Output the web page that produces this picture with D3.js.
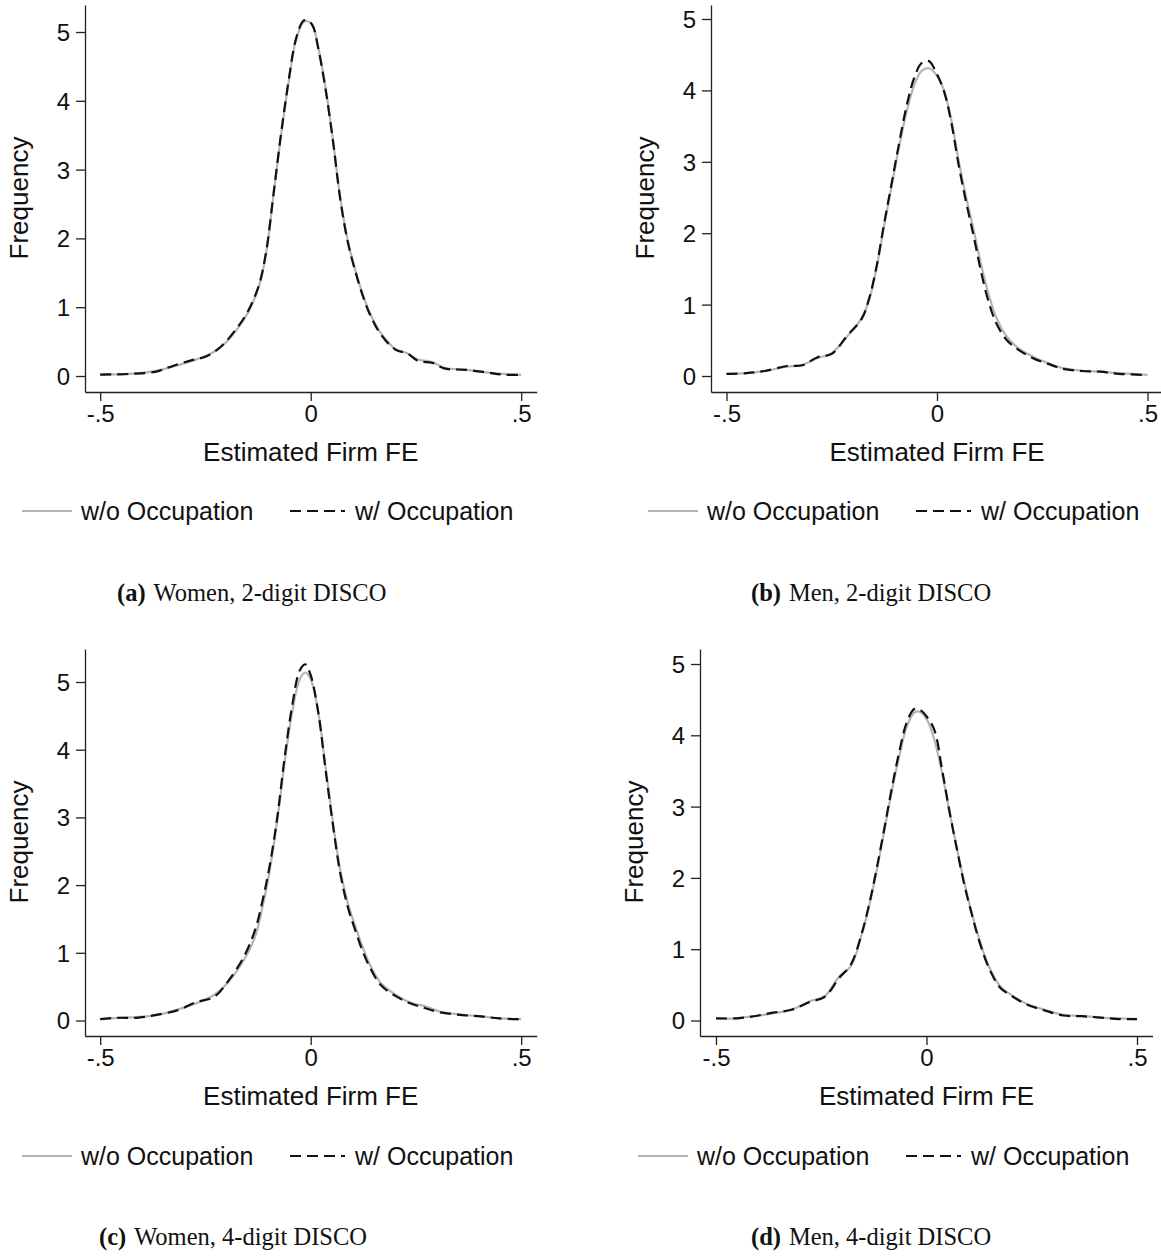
<!DOCTYPE html>
<html><head><meta charset="utf-8">
<script src="https://cdn.jsdelivr.net/npm/d3@7/dist/d3.min.js"></script>
<style>body{margin:0;background:#fff}svg{display:block}</style>
</head><body>
<svg id="c" width="1161" height="1256"></svg>
<script>
// ---------- DATA ----------
const xTicks = [-0.5, 0, 0.5];
const xTickLabels = ["-.5", "0", ".5"];
const yTicks = [0, 1, 2, 3, 4, 5];
const seriesNames = ["w/o Occupation", "w/ Occupation"];
const captionTags = ["(a)", "(b)", "(c)", "(d)"];
const captionTexts = ["Women, 2-digit DISCO", "Men, 2-digit DISCO", "Women, 4-digit DISCO", "Men, 4-digit DISCO"];
const xTitle = "Estimated Firm FE";
const yTitle = "Frequency";

// Panel (a) Women, 2-digit
const aX   = [-0.5,-0.431,-0.37,-0.326,-0.282,-0.246,-0.211,-0.176,-0.15,-0.123,-0.106,-0.088,-0.07,-0.053,-0.035,-0.018,-0.009,0.004,0.018,0.035,0.053,0.07,0.088,0.106,0.123,0.141,0.167,0.202,0.229,0.255,0.29,0.317,0.37,0.42,0.458,0.5];
const aWo  = [0.02,0.03,0.07,0.14,0.22,0.30,0.43,0.67,0.91,1.30,1.78,2.65,3.52,4.25,4.88,5.14,5.16,5.10,4.78,4.20,3.43,2.60,1.97,1.54,1.20,0.91,0.62,0.39,0.33,0.24,0.20,0.12,0.09,0.05,0.03,0.015];
const aW   = [0.02,0.03,0.06,0.15,0.23,0.29,0.44,0.69,0.93,1.32,1.80,2.66,3.54,4.27,4.90,5.16,5.17,5.10,4.76,4.18,3.41,2.58,1.95,1.52,1.18,0.89,0.60,0.38,0.33,0.22,0.19,0.11,0.09,0.05,0.02,0.015];

// Panel (b) Men, 2-digit
const bX   = [-0.5,-0.453,-0.409,-0.356,-0.32,-0.285,-0.25,-0.214,-0.179,-0.161,-0.143,-0.126,-0.108,-0.09,-0.073,-0.055,-0.037,-0.019,-0.002,0.016,0.034,0.051,0.069,0.087,0.104,0.122,0.14,0.166,0.193,0.228,0.264,0.299,0.343,0.388,0.432,0.5];
const bWo  = [0.03,0.04,0.07,0.13,0.155,0.25,0.32,0.55,0.81,1.07,1.53,2.09,2.65,3.21,3.68,4.06,4.27,4.31,4.22,4.01,3.59,3.03,2.51,2.05,1.58,1.16,0.83,0.55,0.39,0.27,0.18,0.11,0.075,0.06,0.04,0.015];
const bW   = [0.03,0.04,0.07,0.14,0.15,0.26,0.31,0.56,0.80,1.09,1.55,2.12,2.69,3.26,3.76,4.16,4.38,4.41,4.25,4.00,3.55,2.97,2.44,1.96,1.48,1.05,0.75,0.50,0.37,0.25,0.17,0.10,0.07,0.06,0.03,0.015];

// Panel (c) Women, 4-digit
const cX   = [-0.5,-0.458,-0.414,-0.37,-0.317,-0.273,-0.229,-0.194,-0.158,-0.132,-0.114,-0.097,-0.079,-0.062,-0.044,-0.026,-0.013,0.0,0.018,0.035,0.053,0.07,0.088,0.106,0.123,0.141,0.167,0.202,0.238,0.273,0.308,0.361,0.405,0.449,0.5];
const cWo  = [0.02,0.04,0.05,0.075,0.16,0.25,0.38,0.58,0.90,1.24,1.69,2.23,2.97,3.81,4.55,5.04,5.14,5.04,4.55,3.76,2.92,2.23,1.74,1.39,1.09,0.82,0.55,0.38,0.26,0.21,0.13,0.085,0.06,0.03,0.02];
const cW   = [0.02,0.04,0.04,0.08,0.15,0.27,0.35,0.60,0.95,1.34,1.78,2.30,3.02,3.88,4.65,5.17,5.26,5.10,4.55,3.72,2.88,2.18,1.68,1.33,1.03,0.78,0.52,0.36,0.25,0.18,0.12,0.08,0.06,0.03,0.02];

// Panel (d) Men, 4-digit
const dX   = [-0.5,-0.454,-0.41,-0.365,-0.321,-0.277,-0.242,-0.207,-0.18,-0.153,-0.135,-0.118,-0.1,-0.082,-0.065,-0.047,-0.029,-0.016,0.002,0.019,0.037,0.055,0.073,0.09,0.108,0.126,0.148,0.175,0.201,0.236,0.281,0.325,0.369,0.414,0.458,0.5];
const dWo  = [0.03,0.03,0.06,0.10,0.15,0.27,0.34,0.62,0.76,1.22,1.64,2.11,2.67,3.23,3.70,4.12,4.32,4.33,4.21,3.93,3.47,2.91,2.39,1.93,1.50,1.13,0.76,0.48,0.36,0.24,0.15,0.08,0.065,0.04,0.03,0.02];
const dW   = [0.03,0.03,0.06,0.11,0.15,0.26,0.33,0.60,0.78,1.24,1.66,2.14,2.70,3.27,3.76,4.18,4.37,4.36,4.25,4.07,3.52,2.92,2.38,1.90,1.48,1.10,0.74,0.46,0.35,0.23,0.14,0.07,0.06,0.04,0.02,0.02];

// ---------- LAYOUT ----------
const panels = [
  {x: aX, wo: aWo, w: aW, yAxisX: 85,  x0: 310.7, y0: 376,    unit: 68.8, axisY: 392,  top: 5,   titleY: 198, capX: 117, capY: 601,  legY: 511,  legX: 22},
  {x: bX, wo: bWo, w: bW, yAxisX: 711, x0: 937,   y0: 376,    unit: 71.4, axisY: 392,  top: 5,   titleY: 198, capX: 751, capY: 601,  legY: 511,  legX: 648},
  {x: cX, wo: cWo, w: cW, yAxisX: 85,  x0: 310.7, y0: 1020.5, unit: 67.7, axisY: 1036, top: 649, titleY: 842, capX: 99,  capY: 1245, legY: 1156, legX: 22},
  {x: dX, wo: dWo, w: dW, yAxisX: 700, x0: 926.5, y0: 1020.5, unit: 71.3, axisY: 1036, top: 649, titleY: 842, capX: 751, capY: 1245, legY: 1156, legX: 638}
];
const halfUnit = 210.5;
const sans = "'Liberation Sans', Arial, Helvetica, sans-serif";
const serif = "'Liberation Serif', 'Times New Roman', serif";
const grayCol = "#b4b4b4";

const svg = d3.select("#c");

panels.forEach((p, i) => {
  const xLeftVal = (p.yAxisX - p.x0) / (2 * halfUnit);
  const xRightVal = (halfUnit + 15.5) / (2 * halfUnit);
  const x = d3.scaleLinear().domain([xLeftVal, xRightVal]).range([p.yAxisX, p.x0 + halfUnit + 15.5]);
  const yBottomVal = -(p.axisY - p.y0) / p.unit;
  const yTopVal = (p.y0 - p.top) / p.unit;
  const y = d3.scaleLinear().domain([yBottomVal, yTopVal]).range([p.axisY, p.top]);

  const g = svg.append("g");

  // axes
  const yAx = g.append("g").attr("transform", `translate(${p.yAxisX},0)`)
    .call(d3.axisLeft(y).tickValues(yTicks).tickFormat(d3.format("d")).tickSizeInner(9).tickSizeOuter(0).tickPadding(6));
  const xAx = g.append("g").attr("transform", `translate(0,${p.axisY})`)
    .call(d3.axisBottom(x).tickValues(xTicks).tickFormat((d, k) => xTickLabels[k]).tickSizeInner(9).tickSizeOuter(0).tickPadding(4));
  [yAx, xAx].forEach(ax => {
    ax.selectAll("path.domain").attr("stroke", "#222").attr("stroke-width", 1.3);
    ax.selectAll(".tick line").attr("stroke", "#222").attr("stroke-width", 1.3);
    ax.selectAll(".tick text").attr("fill", "#111").style("font-family", sans).style("font-size", "24px");
  });
  yAx.selectAll(".tick text").attr("dy", "0.35em");

  // titles
  g.append("text").attr("x", x(0)).attr("y", p.axisY + 69).attr("text-anchor", "middle")
    .style("font-family", sans).style("font-size", "26px").attr("fill", "#111").text(xTitle);
  g.append("text").attr("transform", `translate(${p.yAxisX - 57},${p.titleY}) rotate(-90)`).attr("text-anchor", "middle")
    .style("font-family", sans).style("font-size", "26px").attr("fill", "#111").text(yTitle);

  // lines
  const line = d3.line().x(d => x(d[0])).y(d => y(d[1])).curve(d3.curveCatmullRom.alpha(0.5));
  const woData = p.x.map((v, k) => [v, p.wo[k]]);
  const wData = p.x.map((v, k) => [v, p.w[k]]);
  g.append("path").attr("d", line(woData)).attr("fill", "none").attr("stroke", grayCol).attr("stroke-width", 2.2);
  g.append("path").attr("d", line(wData)).attr("fill", "none").attr("stroke", "#111").attr("stroke-width", 2.2)
    .attr("stroke-dasharray", "11,6");

  // legend
  const lg = g.append("g").attr("transform", `translate(${p.legX},${p.legY})`);
  lg.append("line").attr("x1", 0).attr("x2", 50).attr("y1", 0).attr("y2", 0).attr("stroke", grayCol).attr("stroke-width", 2.2);
  lg.append("text").attr("x", 59).attr("y", 9).style("font-family", sans).style("font-size", "25px").attr("fill", "#111").text(seriesNames[0]);
  lg.append("line").attr("x1", 268).attr("x2", 323).attr("y1", 0).attr("y2", 0).attr("stroke", "#111").attr("stroke-width", 2.2).attr("stroke-dasharray", "11,6");
  lg.append("text").attr("x", 333).attr("y", 9).style("font-family", sans).style("font-size", "25px").attr("fill", "#111").text(seriesNames[1]);

  // caption
  const cap = g.append("text").attr("x", p.capX).attr("y", p.capY).style("font-family", serif).style("font-size", "24.5px").attr("fill", "#111");
  cap.append("tspan").style("font-weight", "bold").text(captionTags[i]);
  cap.append("tspan").attr("dx", 8).text(captionTexts[i]);
});
</script>
</body></html>
